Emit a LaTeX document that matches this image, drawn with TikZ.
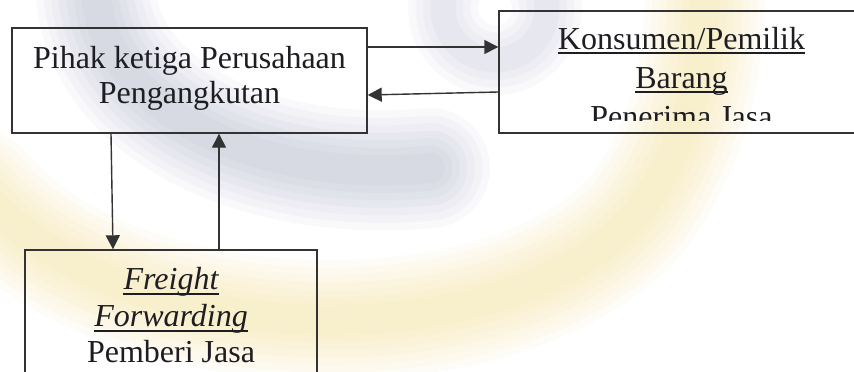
\documentclass[tikz,border=0pt]{standalone}
\usepackage{fontspec}
\setmainfont{Liberation Serif}
\usetikzlibrary{arrows.meta}
\definecolor{ink}{HTML}{1E1E22}
\definecolor{edge}{HTML}{333333}
\definecolor{wmblue}{HTML}{56618F}
\definecolor{wmyellow}{HTML}{F4CC4A}
\begin{document}
\begin{tikzpicture}[x=1pt,y=-1pt,
  box/.style={draw=edge,line width=1.4pt,inner sep=0pt},
  txt/.style={inner sep=0pt,anchor=base,text=ink,font=\fontsize{32}{37}\selectfont},
  conn/.style={draw=edge,line width=1.4pt,-{Triangle[length=14pt,width=14pt]}},
  ul/.style={draw=ink,line width=1.3pt},
  wmb/.style={draw=wmblue,line cap=round},
  wmy/.style={draw=wmyellow,line cap=round}]
\useasboundingbox (0,0) rectangle (854,372);
\clip (0,0) rectangle (854,372);
\fill[white] (0,0) rectangle (854,372);
% watermark (faint swirl)
\foreach \w in {120,105,90,75,60,45,30}{
  \draw[wmb,line width=\w pt,opacity=0.035] (95,-20) .. controls (95,110) and (260,185) .. (430,168);
  \draw[wmy,line width=\w pt,opacity=0.045] (-20,190) .. controls (120,360) and (520,360) .. (640,210) .. controls (690,140) and (705,70) .. (705,-20);
}
\foreach \w in {70,55,40,25}{
  \draw[wmb,line width=\w pt,opacity=0.035] (495,8) circle (52);
}
% boxes
\node[box,minimum width=355pt,minimum height=105pt] (A) at (189.5,80.5) {};
\node[box,minimum width=365pt,minimum height=122pt] (B) at (681.5,72) {};
\node[box,minimum width=292pt,minimum height=160pt] (C) at (171,330) {};
% texts of A
\node[txt] (a1) at (189.5,68) {Pihak ketiga Perusahaan};
\node[txt] (a2) at (189.5,103) {Pengangkutan};
% texts of B
\node[txt] (b1) at (681.5,49) {Konsumen/Pemilik};
\node[txt] (b2) at (681.5,88) {Barang};
\begin{scope}
\clip (499,11) rectangle (864,120);
\node[txt] (b3) at (681.5,127) {Penerima Jasa};
\end{scope}
\draw[ul] ([yshift=-4pt]b1.base west) -- ([yshift=-4pt]b1.base east);
\draw[ul] ([yshift=-4pt]b2.base west) -- ([yshift=-4pt]b2.base east);
% texts of C
\node[txt,font=\fontsize{32}{37}\selectfont\itshape] (c1) at (171,289) {Freight};
\node[txt,font=\fontsize{32}{37}\selectfont\itshape] (c2) at (171,326) {Forwarding};
\node[txt] (c3) at (171,362) {Pemberi Jasa};
\draw[ul] ([yshift=-5pt]c1.base west) -- ([yshift=-5pt]c1.base east);
\draw[ul] ([yshift=-5pt]c2.base west) -- ([yshift=-5pt]c2.base east);
% connectors
\draw[conn] (A.east |- 0,47) -- (B.west |- 0,47);
\draw[conn] (B.west |- 0,92) -- (A.east |- 0,95);
\draw[conn] (A.south -| 111,0) -- (C.north -| 113,0);
\draw[conn] (C.north -| 219,0) -- (A.south -| 219,0);
\end{tikzpicture}
\end{document}
